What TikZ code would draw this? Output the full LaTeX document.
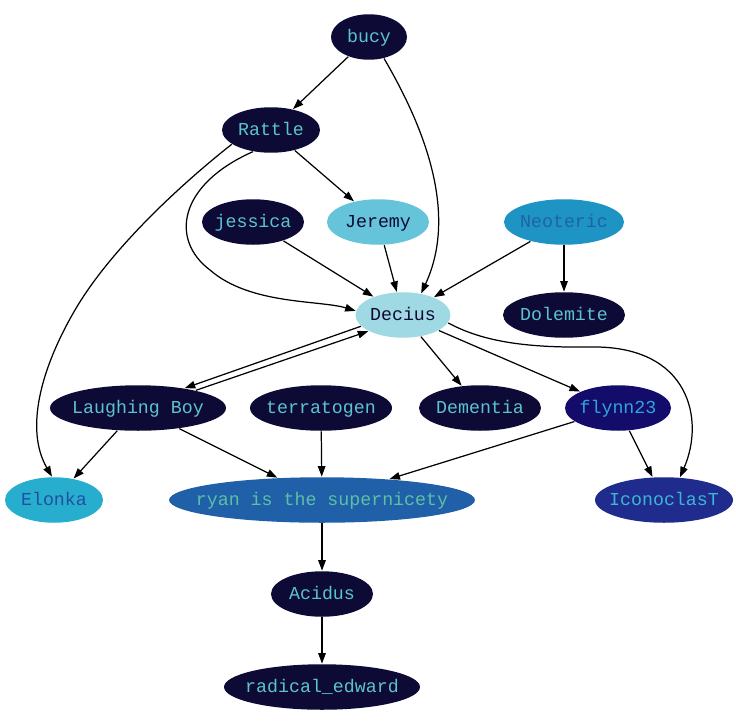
\documentclass[tikz,border=0pt]{standalone}
\usepackage{fontspec}
\setmonofont{Liberation Mono}
\usetikzlibrary{arrows.meta,shapes.geometric}
\definecolor{nodeDark}{HTML}{0D0A35}
\definecolor{textCyan}{HTML}{5BC3D0}
\definecolor{jeremyFill}{HTML}{66C4DA}
\definecolor{deciusFill}{HTML}{9FD9E4}
\definecolor{neotericFill}{HTML}{1E94C4}
\definecolor{neotericText}{HTML}{1F62A8}
\definecolor{flynnFill}{HTML}{140C6A}
\definecolor{flynnText}{HTML}{2EA5D6}
\definecolor{elonkaFill}{HTML}{27AECF}
\definecolor{elonkaText}{HTML}{2150A3}
\definecolor{ryanFill}{HTML}{1F60A8}
\definecolor{ryanText}{HTML}{5DBFA5}
\definecolor{iconoFill}{HTML}{1F2C8E}
\definecolor{iconoText}{HTML}{3DB5D3}
\newcommand{\nodetext}[1]{\makebox[0pt]{#1}}

\begin{document}
\begin{tikzpicture}[x=0.02cm, y=-0.02cm, line width=0.7pt,
  >={Triangle[length=0.21cm,width=0.15cm]},
  gnode/.style={ellipse,inner sep=0pt,minimum height=0.91cm,text height=8.6pt,text depth=2pt,
    font=\ttfamily\fontsize{10.4}{12}\selectfont},
  dark/.style={gnode,fill=nodeDark,text=textCyan}]
  \useasboundingbox[fill=white] (0,0) rectangle (736,720);
  % top rows
  \node[dark,minimum width=1.52cm] (bucy) at (369,37) {\nodetext{bucy}};
  \node[dark,minimum width=1.96cm] (Rattle) at (271,130) {\nodetext{Rattle}};
  \node[dark,minimum width=2.04cm] (jessica) at (253,222) {\nodetext{jessica}};
  \node[gnode,fill=jeremyFill,text=nodeDark,minimum width=2.04cm] (Jeremy) at (378,222) {\nodetext{Jeremy}};
  \node[gnode,fill=neotericFill,text=neotericText,minimum width=2.4cm] (Neoteric) at (564,222) {\nodetext{Neoteric}};
  \node[gnode,fill=deciusFill,text=nodeDark,minimum width=1.9cm] (Decius) at (403,315) {\nodetext{Decius}};
  \node[dark,minimum width=2.44cm] (Dolemite) at (564,315) {\nodetext{Dolemite}};
  % middle rows
  \node[dark,minimum width=3.52cm] (LaughingBoy) at (138,408) {\nodetext{Laughing Boy}};
  \node[dark,minimum width=2.84cm] (terratogen) at (321,408) {\nodetext{terratogen}};
  \node[dark,minimum width=2.44cm] (Dementia) at (480,408) {\nodetext{Dementia}};
  \node[gnode,fill=flynnFill,text=flynnText,minimum width=2.12cm] (flynn23) at (618,408) {\nodetext{flynn23}};
  \node[gnode,fill=elonkaFill,text=elonkaText,minimum width=1.96cm] (Elonka) at (54,500) {\nodetext{Elonka}};
  \node[gnode,fill=ryanFill,text=ryanText,minimum width=6.12cm] (ryan) at (322,500) {\nodetext{ryan is the supernicety}};
  \node[gnode,fill=iconoFill,text=iconoText,minimum width=2.76cm] (IconoclasT) at (664,500) {\nodetext{IconoclasT}};
  % bottom
  \node[dark,minimum width=2.04cm] (Acidus) at (322,594) {\nodetext{Acidus}};
  \node[dark,minimum width=3.92cm] (radical) at (322,687) {\nodetext{radical\_edward}};
  % edges
  \draw[->] (bucy) -- (Rattle);
  \draw[->] (bucy.-55) .. controls (420,120) and (460,210) .. (Decius.50);
  \draw[->] (Rattle) -- (Jeremy);
  \draw[->] (Rattle.200) .. controls (180,185) and (110,250) .. (75,310)
    .. controls (40,370) and (25,430) .. (Elonka.95);
  \draw[->] (Rattle.230) .. controls (178,185) and (170,240) .. (210,270)
    .. controls (250,305) and (320,300) .. (Decius.175);
  \draw[->] (jessica) -- (Decius);
  \draw[->] (Jeremy) -- (Decius);
  \draw[->] (Neoteric) -- (Decius);
  \draw[->] (Neoteric) -- (Dolemite);
  \draw[->] (Decius.195) -- (LaughingBoy.23);
  \draw[->] (LaughingBoy.17) -- (Decius.205);
  \draw[->] (Decius) -- (Dementia);
  \draw[->] (Decius) -- (flynn23);
  \draw[->] (Decius.-10) .. controls (480,340) and (520,348) .. (590,347)
    .. controls (690,345) and (705,420) .. (IconoclasT.55);
  \draw[->] (LaughingBoy) -- (Elonka);
  \draw[->] (LaughingBoy) -- (ryan);
  \draw[->] (terratogen) -- (ryan);
  \draw[->] (flynn23) -- (ryan);
  \draw[->] (flynn23) -- (IconoclasT);
  \draw[->] (ryan) -- (Acidus);
  \draw[->] (Acidus) -- (radical);
\end{tikzpicture}
\end{document}
